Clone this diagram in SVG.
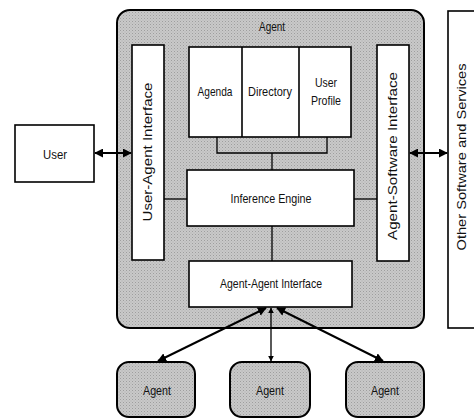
<svg xmlns="http://www.w3.org/2000/svg" width="474" height="419" viewBox="0 0 474 419">
<style>
.box{fill:#fff;stroke:#000;stroke-width:1.6}
.grey{fill:url(#hatch);stroke:#000;stroke-width:2}
.ln{fill:none;stroke:#000;stroke-width:1.3}
.arr{fill:none;stroke:#000;stroke-width:2;marker-start:url(#ah);marker-end:url(#ah)}
text{font-family:"Liberation Sans",Arial,sans-serif;font-size:13px;fill:#111;text-anchor:middle;dominant-baseline:central}
.v{font-size:12px}
</style>
<defs>
<pattern id="hatch" width="3" height="3" patternUnits="userSpaceOnUse">
<rect width="3" height="3" fill="#c9c9c9"/>
<rect x="0" y="0" width="1" height="1" fill="#9e9e9e"/>
<rect x="1.5" y="1.5" width="1" height="1" fill="#b0b0b0"/>
</pattern>
<marker id="ah" viewBox="0 0 10 10" refX="9" refY="5" markerWidth="4.5" markerHeight="4.5" orient="auto-start-reverse">
<path d="M0,0 L10,5 L0,10 z" fill="#000"/>
</marker>
</defs>
<rect width="474" height="419" fill="#fff"/>

<g id="agent-main">
<rect class="grey" x="117" y="10" width="307" height="318" rx="13"/>
<text x="272" y="26" textLength="26" lengthAdjust="spacingAndGlyphs">Agent</text>
</g>

<g id="user">
<rect class="box" x="15" y="125" width="79" height="57"/>
<text x="55" y="154" textLength="24" lengthAdjust="spacingAndGlyphs">User</text>
</g>

<g id="other-software">
<rect class="box" x="448" y="11" width="40" height="317"/>
<text class="v" transform="translate(462,157) rotate(-90)" textLength="187" lengthAdjust="spacingAndGlyphs">Other Software and Services</text>
</g>

<g id="user-agent-interface">
<rect class="box" x="132" y="45" width="32" height="215"/>
<text class="v" transform="translate(148,152) rotate(-90)" textLength="139" lengthAdjust="spacingAndGlyphs">User-Agent Interface</text>
</g>

<g id="agent-software-interface">
<rect class="box" x="377" y="45" width="32" height="216"/>
<text class="v" transform="translate(393,156) rotate(-90)" textLength="168" lengthAdjust="spacingAndGlyphs">Agent-Software Interface</text>
</g>

<g id="knowledge">
<rect class="box" x="189" y="47" width="162" height="90"/>
<line class="ln" x1="242" y1="47" x2="242" y2="137" style="stroke-width:1.6"/>
<line class="ln" x1="299" y1="47" x2="299" y2="137" style="stroke-width:1.6"/>
</g>
<g id="agenda"><text x="215" y="91" textLength="35" lengthAdjust="spacingAndGlyphs">Agenda</text></g>
<g id="directory"><text x="270" y="91" textLength="44" lengthAdjust="spacingAndGlyphs">Directory</text></g>
<g id="user-profile">
<text x="326" y="82" textLength="22" lengthAdjust="spacingAndGlyphs">User</text>
<text x="326" y="100" textLength="30" lengthAdjust="spacingAndGlyphs">Profile</text>
</g>

<g id="inference-engine">
<rect class="box" x="187" y="170" width="167" height="56"/>
<text x="271" y="198" textLength="81" lengthAdjust="spacingAndGlyphs">Inference Engine</text>
</g>

<g id="agent-agent-interface">
<rect class="box" x="189" y="261" width="163" height="46"/>
<text x="271" y="283" textLength="102" lengthAdjust="spacingAndGlyphs">Agent-Agent Interface</text>
</g>

<g id="agent-1">
<rect class="grey" x="117" y="362" width="78" height="55" rx="12"/>
<text x="157" y="390" textLength="28" lengthAdjust="spacingAndGlyphs">Agent</text>
</g>
<g id="agent-2">
<rect class="grey" x="230" y="362" width="80" height="55" rx="12"/>
<text x="270" y="390" textLength="28" lengthAdjust="spacingAndGlyphs">Agent</text>
</g>
<g id="agent-3">
<rect class="grey" x="346" y="362" width="78" height="55" rx="12"/>
<text x="385" y="390" textLength="28" lengthAdjust="spacingAndGlyphs">Agent</text>
</g>

<g id="connectors">
<polyline class="ln" points="217,137 217,153 327,153 327,137"/>
<line class="ln" x1="272" y1="153" x2="272" y2="170"/>
<line class="ln" x1="164" y1="199" x2="187" y2="199"/>
<line class="ln" x1="354" y1="199" x2="377" y2="199"/>
<line class="ln" x1="272" y1="226" x2="272" y2="261"/>
<line class="arr" x1="95" y1="153" x2="131" y2="153"/>
<line class="arr" x1="410" y1="153" x2="447" y2="153"/>
<line class="arr" x1="266" y1="308" x2="158" y2="361"/>
<line class="arr" x1="271" y1="308" x2="271" y2="361" style="stroke-width:1.3"/>
<line class="arr" x1="277" y1="308" x2="383" y2="361"/>
</g>
</svg>
